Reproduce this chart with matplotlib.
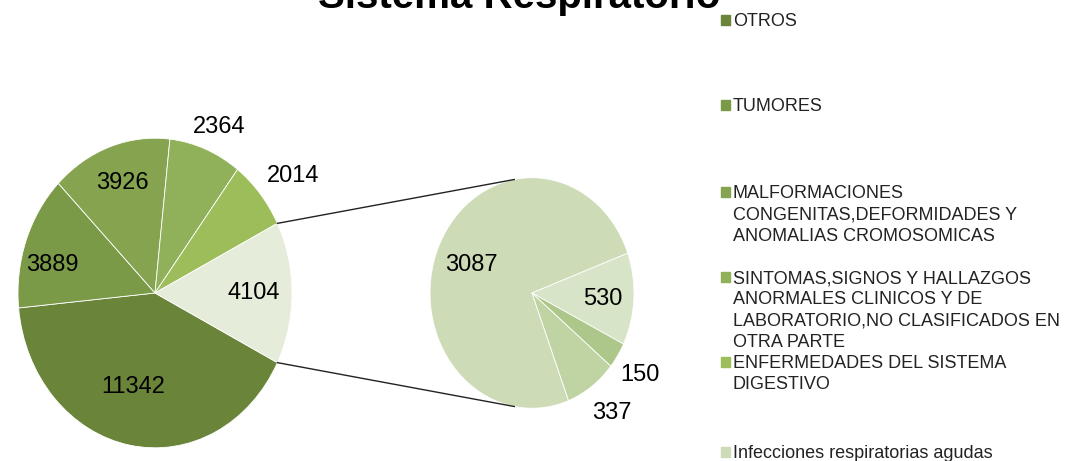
import matplotlib.pyplot as plt
from matplotlib.patches import Rectangle
import numpy as np

plt.rcParams['font.family'] = ['Liberation Sans', 'DejaVu Sans']

# main pie (clockwise order, as in the legend)
main_labels = ['OTROS',
               'TUMORES',
               'MALFORMACIONES\nCONGENITAS,DEFORMIDADES Y\nANOMALIAS CROMOSOMICAS',
               'SINTOMAS,SIGNOS Y HALLAZGOS\nANORMALES CLINICOS Y DE\nLABORATORIO,NO CLASIFICADOS EN\nOTRA PARTE',
               'ENFERMEDADES DEL SISTEMA\nDIGESTIVO']
main_values = [11342, 3889, 3926, 2364, 2014]
main_colors = ['#6a843a', '#7b9a48', '#86a450', '#90b05a', '#9dbd5b']

# second pie (breakdown of the last slice)
rest_labels = ['Infecciones respiratorias agudas', '', '', '']
rest_values = [3087, 530, 150, 337]
rest_colors = ['#cddbb6', '#d8e4c8', '#adc68a', '#c0d4a3']
other_color = '#e5ecd9'

left_vals = main_values + [sum(rest_values)]
left_cols = main_colors + [other_color]

SY = 1.13  # picture is a bit stretched vertically


def py(y):
    return (461 - y) / SY


fig = plt.figure(figsize=(10.73, 4.61), dpi=100)
ax = fig.add_axes([0, 0, 1, 1])

c1 = (155, py(293))
r1 = 137
c2 = (532, py(293))
r2 = 102

start1 = -left_vals[-1] / sum(left_vals) * 180
w1, _ = ax.pie(left_vals, colors=left_cols, center=c1, radius=r1,
               startangle=start1, counterclock=False,
               wedgeprops=dict(edgecolor='white', linewidth=0.6))
w2, _ = ax.pie(rest_values, colors=rest_colors, center=c2, radius=r2,
               startangle=291, counterclock=False,
               wedgeprops=dict(edgecolor='white', linewidth=0.6))

# label placement: radius factor and angle shift per slice
lab1 = [(0.63, -4), (0.77, 6), (0.75, -1), (1.17, -2), (1.26, -3), (0.72, 0)]
lab2 = [(0.64, 2), (0.70, -1), (1.28, -1), (1.30, 1)]
for wedges, vals, fac, c, r in [(w1, left_vals, lab1, c1, r1),
                                (w2, rest_values, lab2, c2, r2)]:
    for w, v, (f, da) in zip(wedges, vals, fac):
        a = np.deg2rad((w.theta1 + w.theta2) / 2 + da)
        ax.text(c[0] + f * r * np.cos(a), c[1] + f * r * np.sin(a), str(v),
                ha='center', va='center', fontsize=17)

# connector lines
ow = w1[-1]
for t_left, t_right in [(ow.theta2, 100), (ow.theta1, 260)]:
    a = np.deg2rad(t_left)
    b = np.deg2rad(t_right)
    ax.plot([c1[0] + r1 * np.cos(a), c2[0] + r2 * np.cos(b)],
            [c1[1] + r1 * np.sin(a), c2[1] + r2 * np.sin(b)],
            color='#222222', lw=1)

ax.set_aspect('auto')
ax.set_xlim(0, 1073)
ax.set_ylim(0, 461 / SY)
ax.axis('off')

fig.text(519 / 1073, 1 - 8 / 461, 'Sistema Respiratorio', ha='center',
         va='baseline', fontsize=29, fontweight='bold')

# legend drawn by hand (Excel spacing)
leg_labels = main_labels + rest_labels[:1]
leg_colors = main_colors + rest_colors[:1]
tops = [13, 98, 185, 270, 355, 445]
for lab, col, t in zip(leg_labels, leg_colors, tops):
    ax.add_patch(Rectangle((721, py(t + 12)), 9, 10 / SY, color=col))
    ax.text(733, py(t), lab, ha='left', va='top', fontsize=13,
            linespacing=1.33, color='#222222')

fig.savefig('out.png', dpi=100)
